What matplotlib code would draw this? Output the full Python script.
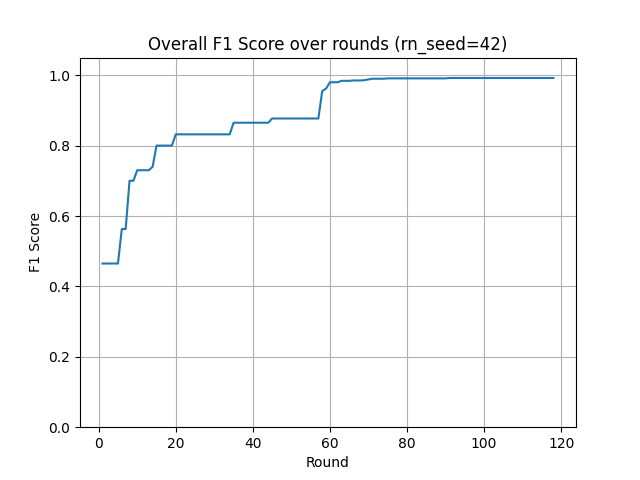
import matplotlib
matplotlib.use("Agg")
import matplotlib.pyplot as plt

f1 = ([0.465]*5 + [0.563]*2 + [0.70]*2 + [0.73]*4 + [0.74] + [0.80]*5 +
      [0.832]*15 + [0.865]*10 + [0.877]*13 + [0.955, 0.962] + [0.98]*3 +
      [0.984]*3 + [0.985]*3 + [0.986, 0.988] + [0.990]*4 + [0.991]*16 + [0.992]*28)
rounds = list(range(1, len(f1) + 1))

fig, ax = plt.subplots(figsize=(6.4, 4.8), dpi=100)
ax.plot(rounds, f1)
ax.set_title("Overall F1 Score over rounds (rn_seed=42)")
ax.set_xlabel("Round")
ax.set_ylabel("F1 Score")
ax.set_ylim(0, 1.05)
ax.grid(True)
fig.savefig("out.png")
